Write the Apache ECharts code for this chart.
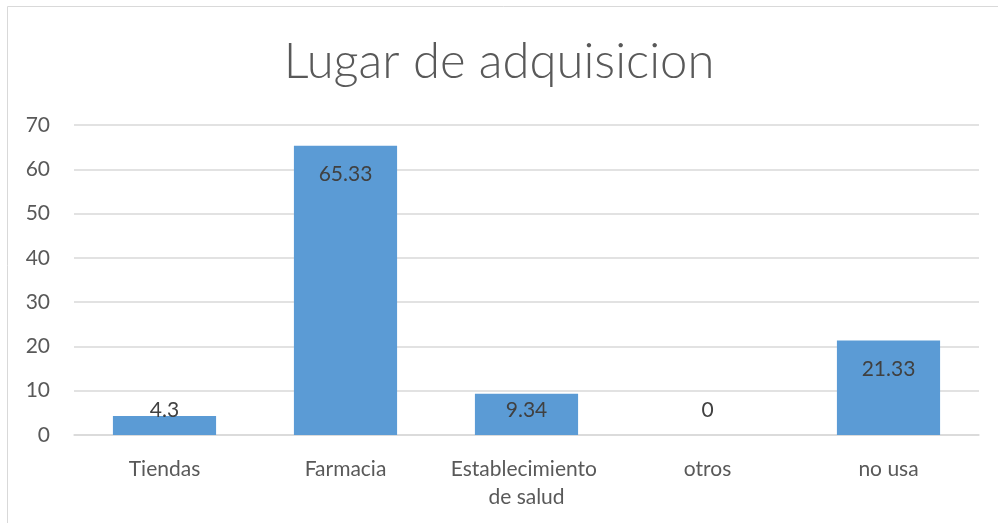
<!DOCTYPE html>
<html>
<head>
<meta charset="utf-8">
<script src="https://cdn.jsdelivr.net/npm/echarts@6/dist/echarts.min.js"></script>
<style>
  html, body { margin: 0; padding: 0; background: #fff; }
  #chart { width: 998px; height: 523px; }
</style>
</head>
<body>
<div id="chart"></div>
<script>
const categories = ['Tiendas', 'Farmacia', 'Establecimiento de salud', 'otros', 'no usa'];
const values = [4.3, 65.33, 9.34, 0, 21.33];
const chartTitle = 'Lugar de adquisicion';

const FONT = 'Lato, "Noto Sans", sans-serif';

// short bars get their label pushed down near the axis, like Excel does
const seriesData = values.map(v => {
  if (v < 12) {
    return {
      value: v,
      label: { position: v === 0 ? 'top' : 'insideBottom', distance: 14 },
    };
  }
  return v;
});

const chart = echarts.init(document.getElementById('chart'));
chart.setOption({
  animation: false,
  title: {
    text: chartTitle,
    left: 'center',
    top: 33,
    textStyle: {
      fontFamily: FONT,
      fontWeight: 300,
      fontSize: 49,
      color: '#595959',
    },
  },
  graphic: [
    {
      type: 'rect',
      shape: { x: 7.5, y: 6.5, width: 1000, height: 530 },
      style: { fill: 'none', stroke: '#d9d9d9', lineWidth: 1 },
      silent: true,
    },
  ],
  grid: {
    left: 74,
    right: 19,
    top: 125,
    bottom: 88,
  },
  xAxis: {
    type: 'category',
    data: categories,
    axisTick: { show: false },
    axisLine: { lineStyle: { color: '#d9d9d9', width: 1.5 } },
    axisLabel: {
      interval: 0,
      margin: 20,
      width: 165,
      overflow: 'break',
      lineHeight: 28,
      fontFamily: FONT,
      fontSize: 21,
      color: '#595959',
    },
  },
  yAxis: {
    type: 'value',
    min: 0,
    max: 70,
    interval: 10,
    axisLine: { show: false },
    axisTick: { show: false },
    splitLine: { lineStyle: { color: '#d9d9d9', width: 1.5 } },
    axisLabel: {
      margin: 24,
      fontFamily: FONT,
      fontSize: 21,
      color: '#595959',
    },
  },
  series: [
    {
      type: 'bar',
      data: seriesData,
      barCategoryGap: '43%',
      itemStyle: { color: '#5b9bd5' },
      label: {
        show: true,
        position: 'insideTop',
        distance: 18,
        fontFamily: FONT,
        fontSize: 21,
        color: '#404040',
      },
    },
  ],
});
</script>
</body>
</html>
